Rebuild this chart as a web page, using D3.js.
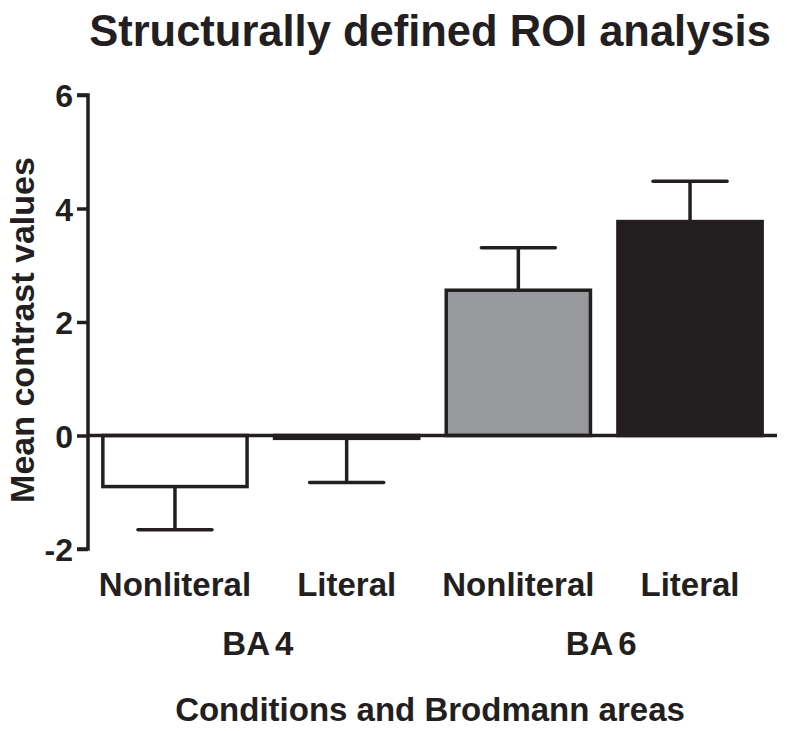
<!DOCTYPE html>
<html>
<head>
<meta charset="utf-8">
<script src="https://cdn.jsdelivr.net/npm/d3@7"></script>
<style>
  html, body { margin: 0; padding: 0; background: #fff; }
  text { font-family: "Liberation Sans", Arial, sans-serif; font-weight: bold; fill: #231f20; }
</style>
</head>
<body>
<svg id="chart" width="787" height="731"></svg>
<script>
const categories = ["Nonliteral", "Literal", "Nonliteral", "Literal"];
const keys = ["BA4-N", "BA4-L", "BA6-N", "BA6-L"];
const areas = ["BA 4", "BA 6"];
const means = [-0.90, -0.05, 2.56, 3.77];
const errors = [0.76, 0.78, 0.75, 0.71];
const fills = ["#ffffff", "#ffffff", "#97999c", "#231f20"];
const yTicks = [-2, 0, 2, 4, 6];

const ink = "#231f20";
const svg = d3.select("#chart");

const x = d3.scaleBand().domain(keys).range([88, 777]).paddingInner(0.16).paddingOuter(0.0865);
const y = d3.scaleLinear().domain([-2, 6]).range([549, 95]);

// Title
svg.append("text").attr("x", 430).attr("y", 46).attr("text-anchor", "middle")
  .style("font-size", "43.5px").text("Structurally defined ROI analysis");

// Y axis
const yAxis = svg.append("g").attr("transform", "translate(88,0)")
  .call(d3.axisLeft(y).tickValues(yTicks).tickSize(11).tickPadding(4).tickFormat(d3.format("d")));
yAxis.select(".domain").attr("stroke", ink).attr("stroke-width", 3.5)
  .attr("d", `M-11,${y(6)}H0V${y(-2)}H-11`);
yAxis.selectAll(".tick line").attr("stroke", ink).attr("stroke-width", 3.5);
yAxis.selectAll(".tick text").style("font-size", "32px").style("font-family", "'Liberation Sans', Arial, sans-serif")
  .style("font-weight", "bold").attr("fill", ink).attr("dy", "0.36em")
  .text(d => d < 0 ? "-" + Math.abs(d) : d);

// Bars
const bars = svg.append("g");
keys.forEach((k, i) => {
  const v = means[i];
  const y0 = y(0), y1 = y(v);
  bars.append("rect")
    .attr("x", x(k)).attr("width", x.bandwidth())
    .attr("y", Math.min(y0, y1)).attr("height", Math.max(Math.abs(y1 - y0), 1))
    .attr("fill", fills[i]).attr("stroke", ink).attr("stroke-width", 3.5);
  const cx = x(k) + x.bandwidth() / 2;
  const ye = y(v + (v >= 0 ? errors[i] : -errors[i]));
  bars.append("line").attr("x1", cx).attr("x2", cx).attr("y1", y1).attr("y2", ye)
    .attr("stroke", ink).attr("stroke-width", 3.5);
  bars.append("line").attr("x1", cx - 37).attr("x2", cx + 37).attr("y1", ye).attr("y2", ye)
    .attr("stroke", ink).attr("stroke-width", 3.5).attr("stroke-linecap", "round");
});

// Zero line
svg.append("line").attr("x1", 88).attr("x2", 777).attr("y1", y(0)).attr("y2", y(0))
  .attr("stroke", ink).attr("stroke-width", 3.5);

// Category labels
svg.append("g").selectAll("text").data(keys).join("text")
  .attr("x", d => x(d) + x.bandwidth() / 2).attr("y", 596).attr("text-anchor", "middle")
  .style("font-size", "33px").text((d, i) => categories[i]);

// Area labels
areas.forEach((a, j) => {
  const k0 = keys[j * 2], k1 = keys[j * 2 + 1];
  const cx = (x(k0) + x(k1) + x.bandwidth()) / 2;
  svg.append("text").attr("x", cx - 3).attr("y", 655).attr("text-anchor", "middle")
    .style("font-size", "33px").style("word-spacing", "-3px").text(a);
});

// X title
svg.append("text").attr("x", 430).attr("y", 721).attr("text-anchor", "middle")
  .style("font-size", "33px").text("Conditions and Brodmann areas");

// Y title
svg.append("text").attr("transform", "translate(34,330) rotate(-90)").attr("text-anchor", "middle")
  .style("font-size", "34px").text("Mean contrast values");
</script>
</body>
</html>
